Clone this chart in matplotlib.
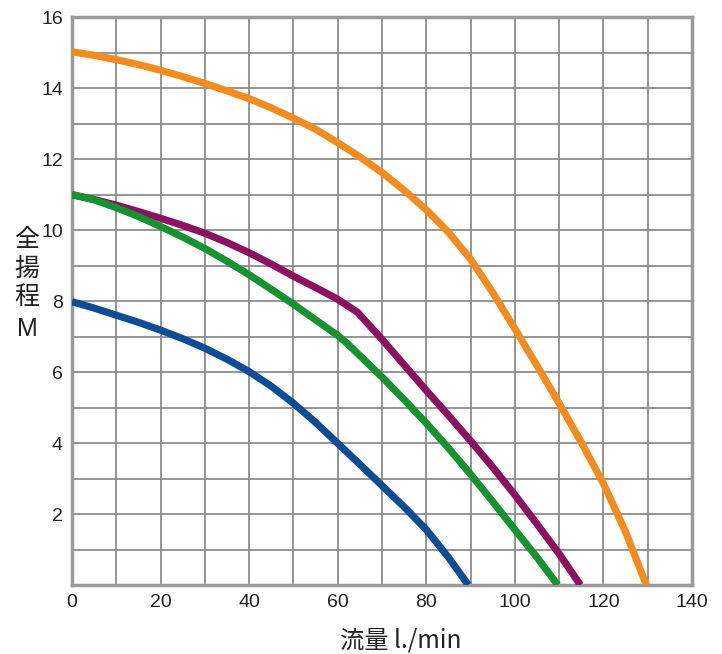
import matplotlib
matplotlib.use("Agg")
import matplotlib.pyplot as plt

plt.rcParams['font.family'] = ['Liberation Sans', 'Noto Sans CJK JP', 'DejaVu Sans']

orange_x = [0, 5, 10, 15, 20, 25, 30, 35, 40, 45, 50, 55, 60, 65, 70, 75, 80, 85, 90, 95, 100, 105, 110, 115, 120, 125, 129.7]
orange_y = [15.02, 14.92, 14.8, 14.66, 14.5, 14.32, 14.13, 13.92, 13.7, 13.44, 13.15, 12.84, 12.46, 12.06, 11.62, 11.12,
            10.57, 9.94, 9.18, 8.24, 7.22, 6.18, 5.12, 4.02, 2.86, 1.5, 0.0]

purple_x = [0, 5, 10, 15, 20, 25, 30, 35, 40, 45, 50, 55, 60, 64.5, 70, 75, 80, 85, 90, 95, 100, 105, 110, 114.8]
purple_y = [10.99, 10.86, 10.7, 10.52, 10.33, 10.13, 9.91, 9.65, 9.36, 9.04, 8.7, 8.38, 8.05, 7.68, 6.92, 6.2,
            5.48, 4.78, 4.06, 3.32, 2.54, 1.72, 0.88, 0.0]

green_x = [0, 5, 10, 15, 20, 25, 30, 35, 40, 45, 50, 55, 60, 62.2, 65, 70, 75, 80, 85, 90, 95, 100, 105, 109.7]
green_y = [11.0, 10.85, 10.63, 10.38, 10.1, 9.8, 9.48, 9.12, 8.74, 8.33, 7.91, 7.47, 7.03, 6.8, 6.46, 5.86, 5.22,
           4.56, 3.86, 3.12, 2.35, 1.56, 0.78, 0.0]

blue_x = [0, 5, 10, 15, 20, 25, 30, 35, 40, 45, 50, 55, 60, 65, 70, 75, 80, 85, 89.5]
blue_y = [7.98, 7.8, 7.6, 7.4, 7.18, 6.94, 6.67, 6.36, 6.01, 5.6, 5.12, 4.58, 3.99, 3.4, 2.8, 2.2, 1.56, 0.78, 0.0]

x_ticks = [0, 20, 40, 60, 80, 100, 120, 140]
y_ticks = [2, 4, 6, 8, 10, 12, 14, 16]

fig = plt.figure(figsize=(7.22, 6.54), dpi=100)
ax = fig.add_axes([0.0997, 0.1055, 0.8587, 0.8685])
ax.set_xlim(0, 140)
ax.set_ylim(0, 16)

for v in range(10, 140, 10):
    ax.axvline(v, color='#8c8c8c', lw=1.3, zorder=1)
for v in range(1, 16):
    ax.axhline(v, color='#8c8c8c', lw=1.3, zorder=1)

lw = 5.2
style = dict(lw=lw, solid_capstyle='butt', solid_joinstyle='round')
ax.plot(orange_x, orange_y, color='#F28C1E', zorder=3, **style)
ax.plot(purple_x, purple_y, color='#8C1160', zorder=3, **style)
ax.plot(green_x, green_y, color='#16922F', zorder=4, **style)
ax.plot(blue_x, blue_y, color='#0F4C97', zorder=3, **style)

for s in ax.spines.values():
    s.set_color('#9a9a9a')
    s.set_linewidth(2.5)

ax.set_xticks(x_ticks)
ax.set_yticks(y_ticks)
ax.tick_params(length=0, labelsize=14, colors='#222222', pad=6.5)
ax.set_xticklabels([str(t) for t in x_ticks])
ax.set_yticklabels([str(t) for t in y_ticks])

cjk = ['Noto Sans CJK JP']
for ch, yc in zip(["全", "揚", "程"], [240.5, 269.5, 296.5]):
    fig.text(27 / 722, 1 - yc / 654, ch, family=cjk, fontsize=18, ha='center', va='center', color='#222222')
fig.text(27 / 722, 1 - 329 / 654, "M", fontsize=18, ha='center', va='center', color='#222222')
fig.text(401 / 722, 1 - 640 / 654, "流量 l./min", family=cjk,
         fontsize=17.5, ha='center', va='center', color='#222222')

fig.savefig("out.png", dpi=100, facecolor='white')
